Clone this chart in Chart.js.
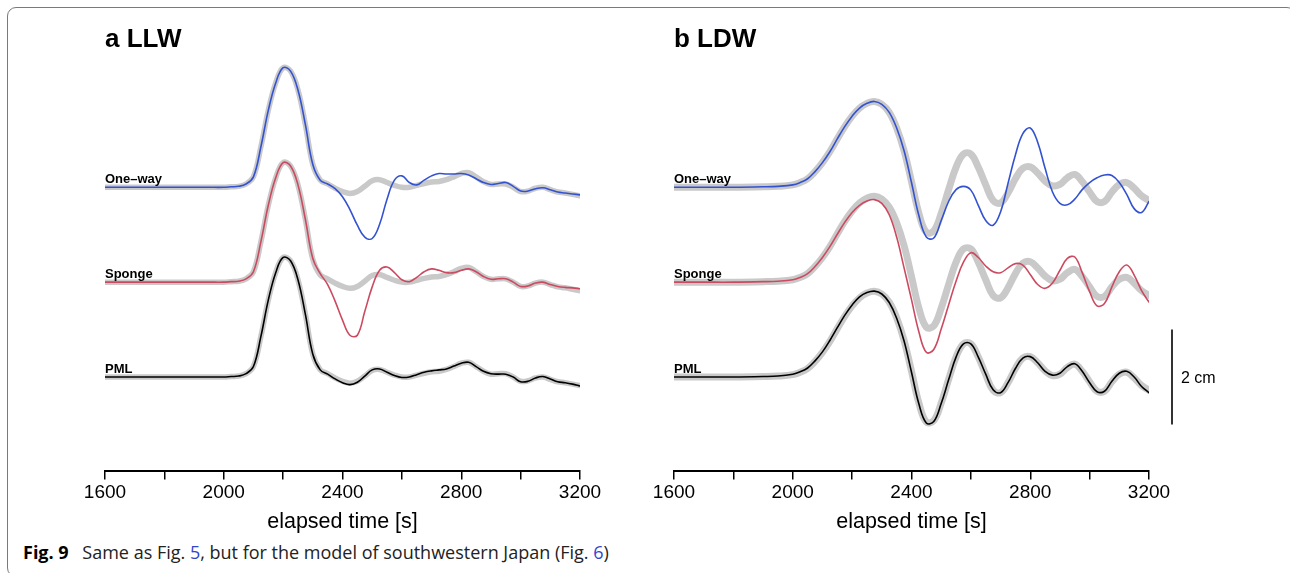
<!DOCTYPE html>
<html>
<head>
<meta charset="utf-8">
<script src="https://cdn.jsdelivr.net/npm/chart.js@4.4.0/dist/chart.umd.min.js"></script>
<style>
  body { margin: 0; background: #fff; width: 1290px; height: 573px; overflow: hidden; position: relative;
         font-family: 'Liberation Sans', Arial, sans-serif; }
  #frame { position: absolute; left: 7px; top: 7px; width: 1289px; height: 570px; box-sizing: border-box;
           border: 1.5px solid #7a7a7a; border-radius: 9px; }
  canvas { position: absolute; }
  .title { position: absolute; top: 25px; font-size: 26px; font-weight: bold; line-height: 26px; }
  .lab { position: absolute; font-size: 13px; font-weight: bold; line-height: 13px; }
  #bar { position: absolute; left: 1181px; top: 370px; font-size: 16px; line-height: 16px; }
  #caption { position: absolute; left: 23px; top: 543px; font-family: 'Open Sans', sans-serif; font-size: 18px;
             line-height: 18px; color: #222; white-space: nowrap; }
  #caption b { color: #000; margin-right: 9px; }
  #caption span { color: #3344cc; }
</style>
</head>
<body>
<div id="frame"></div>
<canvas id="llw" width="560" height="500" style="left:60px;top:40px"></canvas>
<canvas id="ldw" width="560" height="500" style="left:629px;top:40px"></canvas>
<div class="title" style="left:105px">a LLW</div>
<div class="title" style="left:674px">b LDW</div>
<div class="lab" style="left:105px;top:172px">One&#8211;way</div>
<div class="lab" style="left:105px;top:267px">Sponge</div>
<div class="lab" style="left:105px;top:362px">PML</div>
<div class="lab" style="left:674px;top:172px">One&#8211;way</div>
<div class="lab" style="left:674px;top:267px">Sponge</div>
<div class="lab" style="left:674px;top:362px">PML</div>
<div id="bar">2 cm</div>
<div id="caption"><b>Fig. 9</b> Same as Fig. <span>5</span>, but for the model of southwestern Japan (Fig. <span>6</span>)</div>
<script>
// elapsed time [s]
const times = [1600, 1700, 1800, 1900, 1950,
  2000, 2025, 2050, 2075, 2100, 2125, 2150, 2175, 2200, 2225,
  2250, 2275, 2300, 2325, 2350, 2375, 2400, 2425, 2450, 2475,
  2500, 2525, 2550, 2575, 2600, 2625, 2650, 2675, 2700, 2725,
  2750, 2775, 2800, 2825, 2850, 2875, 2900, 2925, 2950, 2975,
  3000, 3025, 3050, 3075, 3100, 3125, 3150, 3175, 3200];

// waveforms in cm, (a) LLW
const llwRef = [0, 0, 0, 0, 0,
  0.00, 0.01, 0.02, 0.07, 0.22, 0.85, 1.62, 2.20, 2.52, 2.45,
  2.05, 1.32, 0.48, 0.15, 0.07, -0.02, -0.09, -0.13, -0.09, 0.02,
  0.14, 0.16, 0.10, 0.04, 0.00, 0.00, 0.04, 0.08, 0.11, 0.12,
  0.16, 0.22, 0.29, 0.31, 0.22, 0.12, 0.06, 0.07, 0.07, 0.00,
  -0.09, -0.08, -0.02, 0.00, -0.05, -0.10, -0.12, -0.15, -0.18];
const llwOneWay = [0, 0, 0, 0, 0,
  0.00, 0.01, 0.02, 0.07, 0.22, 0.85, 1.62, 2.20, 2.52, 2.45,
  2.05, 1.32, 0.48, 0.15, 0.07, -0.03, -0.20, -0.47, -0.80, -1.05,
  -1.08, -0.78, -0.25, 0.15, 0.24, 0.10, 0.05, 0.15, 0.24, 0.29,
  0.28, 0.28, 0.29, 0.26, 0.18, 0.10, 0.06, 0.08, 0.10, 0.02,
  -0.08, -0.08, -0.03, -0.01, -0.05, -0.10, -0.12, -0.14, -0.16];
const llwSponge = [0, 0, 0, 0, 0,
  0.00, 0.01, 0.02, 0.07, 0.22, 0.85, 1.62, 2.20, 2.52, 2.45,
  2.05, 1.32, 0.50, 0.18, -0.05, -0.40, -0.80, -1.12, -1.12, -0.62,
  -0.10, 0.25, 0.32, 0.20, 0.05, 0.01, 0.10, 0.22, 0.28, 0.25,
  0.20, 0.20, 0.25, 0.28, 0.22, 0.12, 0.06, 0.07, 0.07, 0.00,
  -0.09, -0.08, -0.02, 0.00, -0.05, -0.09, -0.11, -0.12, -0.14];
const llwPML = [0, 0, 0, 0, 0,
  0.00, 0.01, 0.02, 0.07, 0.22, 0.85, 1.62, 2.20, 2.52, 2.45,
  2.05, 1.32, 0.48, 0.15, 0.06, -0.04, -0.12, -0.16, -0.11, 0.02,
  0.15, 0.17, 0.10, 0.03, -0.01, 0.00, 0.05, 0.10, 0.13, 0.15,
  0.17, 0.23, 0.29, 0.31, 0.22, 0.12, 0.07, 0.06, 0.06, 0.00,
  -0.10, -0.09, -0.02, 0.01, -0.04, -0.10, -0.12, -0.15, -0.19];

// (b) LDW
const ldwRef = [0, 0, 0, 0.01, 0.02,
  0.05, 0.10, 0.18, 0.33, 0.52, 0.75, 1.02, 1.28, 1.50, 1.67,
  1.77, 1.81, 1.75, 1.58, 1.25, 0.77, 0.12, -0.55, -0.95, -0.92,
  -0.55, -0.05, 0.42, 0.70, 0.70, 0.42, 0.05, -0.28, -0.33, -0.12,
  0.18, 0.40, 0.43, 0.30, 0.13, 0.03, 0.06, 0.20, 0.27, 0.12,
  -0.10, -0.30, -0.30, -0.10, 0.06, 0.10, -0.02, -0.18, -0.28];
const ldwOneWay = [0, 0, 0, 0.01, 0.02,
  0.05, 0.10, 0.18, 0.33, 0.52, 0.75, 1.02, 1.28, 1.50, 1.67,
  1.77, 1.81, 1.75, 1.58, 1.25, 0.77, 0.10, -0.60, -1.05, -1.07,
  -0.70, -0.30, -0.05, 0.02, -0.06, -0.38, -0.70, -0.80, -0.52, 0.08,
  0.68, 1.13, 1.25, 0.95, 0.40, -0.10, -0.34, -0.37, -0.25, -0.05,
  0.10, 0.20, 0.26, 0.25, 0.10, -0.15, -0.45, -0.53, -0.30];
const ldwSponge = [0, 0, 0, 0.01, 0.02,
  0.05, 0.10, 0.18, 0.33, 0.52, 0.75, 1.01, 1.26, 1.47, 1.62,
  1.71, 1.74, 1.66, 1.42, 0.95, 0.30, -0.37, -1.05, -1.48, -1.42,
  -0.99, -0.48, 0.02, 0.42, 0.62, 0.52, 0.34, 0.22, 0.20, 0.30,
  0.39, 0.36, 0.16, -0.05, -0.13, -0.02, 0.25, 0.50, 0.53, 0.20,
  -0.20, -0.50, -0.45, -0.10, 0.22, 0.36, 0.15, -0.18, -0.42];
const ldwPML = [0, 0, 0, 0.01, 0.02,
  0.06, 0.11, 0.19, 0.34, 0.53, 0.77, 1.04, 1.30, 1.52, 1.69,
  1.78, 1.81, 1.75, 1.57, 1.24, 0.76, 0.10, -0.57, -0.97, -0.94,
  -0.56, -0.06, 0.42, 0.70, 0.70, 0.42, 0.06, -0.27, -0.33, -0.12,
  0.18, 0.40, 0.43, 0.30, 0.12, 0.04, 0.08, 0.22, 0.28, 0.12,
  -0.12, -0.31, -0.30, -0.09, 0.08, 0.12, 0.00, -0.20, -0.33];

// vertical offset of each trace (cm) and the scale bar span
const offsets = [0, -2, -4];
const scaleBarCm = [-3, -5];
const yMin = -5.99, yMax = 3.105;

Chart.defaults.font.family = "'Liberation Sans', Arial, sans-serif";
Chart.defaults.color = '#000';

const scaleBar = {
  id: 'scaleBar',
  afterDraw(chart) {
    const y = chart.scales.y;
    const ctx = chart.ctx;
    const x = chart.chartArea.right + 23;
    ctx.save();
    ctx.strokeStyle = '#000';
    ctx.lineWidth = 1.6;
    ctx.beginPath();
    ctx.moveTo(x, y.getPixelForValue(scaleBarCm[0]));
    ctx.lineTo(x, y.getPixelForValue(scaleBarCm[1]));
    ctx.stroke();
    ctx.restore();
  }
};

function makePanel(id, ref, traces, grayWidth, plugins) {
  const datasets = [];
  traces.forEach((tr, k) => {
    const off = offsets[k];
    datasets.push({
      data: times.map((t, i) => ({ x: t, y: ref[i] + off })),
      borderColor: '#c9c9c9', borderWidth: grayWidth, order: 2
    });
    datasets.push({
      data: times.map((t, i) => ({ x: t, y: tr.vals[i] + off })),
      borderColor: tr.color, borderWidth: 1.6, order: 1
    });
  });

  return new Chart(document.getElementById(id), {
    type: 'line',
    data: { datasets },
    options: {
      responsive: false,
      animation: false,
      devicePixelRatio: 1,
      layout: { padding: { left: 45, right: 40, top: 0, bottom: 5 } },
      elements: {
        point: { radius: 0 },
        line: { tension: 0.4, borderCapStyle: 'round', borderJoinStyle: 'round' }
      },
      plugins: { legend: { display: false }, tooltip: { enabled: false } },
      scales: {
        x: {
          type: 'linear', min: 1600, max: 3200,
          ticks: {
            stepSize: 200, autoSkip: false, maxRotation: 0, padding: 2,
            font: { size: 19 }, color: '#000',
            callback: v => (v % 400 === 0 ? String(v) : '')
          },
          grid: { drawOnChartArea: false, drawTicks: true, tickLength: 8, color: '#000', lineWidth: 1.5 },
          border: { display: true, color: '#000', width: 2 },
          title: { display: true, text: 'elapsed time [s]', font: { size: 21.5 }, color: '#000', padding: { top: 3, bottom: 0 } }
        },
        y: { display: false, min: yMin, max: yMax }
      }
    },
    plugins: plugins || []
  });
}

makePanel('llw', llwRef, [
  { vals: llwOneWay, color: '#3352d1' },
  { vals: llwSponge, color: '#cc4a60' },
  { vals: llwPML, color: '#000' }
], 5.5);

makePanel('ldw', ldwRef, [
  { vals: ldwOneWay, color: '#3352d1' },
  { vals: ldwSponge, color: '#cc4a60' },
  { vals: ldwPML, color: '#000' }
], 7, [scaleBar]);
</script>
</body>
</html>
